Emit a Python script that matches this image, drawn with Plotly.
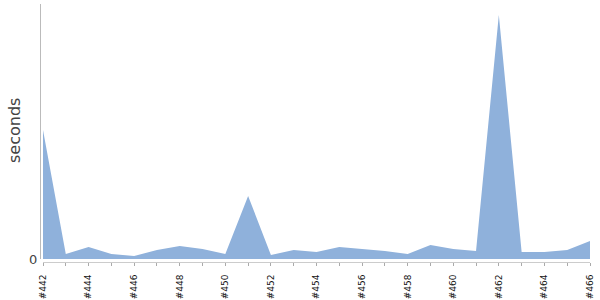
import plotly.graph_objects as go

builds = [f"#{n}" for n in range(442, 467)]
seconds = [129, 5, 12, 5, 3, 9, 13, 10, 5, 63, 4, 9, 7, 12, 10, 8, 5, 14, 10, 8, 244, 7, 7, 9, 18]
tick_labels = [b if i % 2 == 0 else "" for i, b in enumerate(builds)]

fig = go.Figure()
fig.add_trace(go.Scatter(
    x=list(range(len(builds))), y=seconds, mode="lines", fill="tozeroy",
    line=dict(width=0, color="#8fb1db"), fillcolor="#8fb1db",
    hoverinfo="skip", showlegend=False,
))

fig.update_layout(
    width=600, height=300,
    margin=dict(l=40, r=10, t=4, b=38, autoexpand=False),
    paper_bgcolor="white", plot_bgcolor="white",
    font=dict(family="DejaVu Sans", color="#222"),
    xaxis=dict(
        domain=[3 / 550, 1], range=[0, len(builds) - 1],
        tickmode="array", tickvals=list(range(len(builds))), ticktext=tick_labels,
        tickangle=-90, tickfont=dict(size=9, color="#111", family="DejaVu Sans"),
        ticks="outside", ticklen=3, tickcolor="#aaa", ticklabelstandoff=5,
        showline=True, linecolor="#ccc", linewidth=1,
        showgrid=False, zeroline=False, anchor="free", position=0,
        automargin=False,
    ),
    yaxis=dict(
        domain=[3 / 258, 1], range=[0, 255],
        tickmode="array", tickvals=[0], ticktext=["0"],
        tickfont=dict(size=13, color="#444", family="DejaVu Sans"), ticks="",
        showline=True, linecolor="#bbb", linewidth=1,
        showgrid=False, zeroline=False, anchor="free", position=0,
        automargin=False,
    ),
    annotations=[dict(
        text="seconds", textangle=-90, showarrow=False,
        xref="paper", yref="paper", x=(14 - 40) / 550, y=(262 - 131) / 258,
        xanchor="center", yanchor="middle",
        font=dict(size=16, color="#444", family="DejaVu Sans"),
    )],
)

fig.write_html("out.html")
